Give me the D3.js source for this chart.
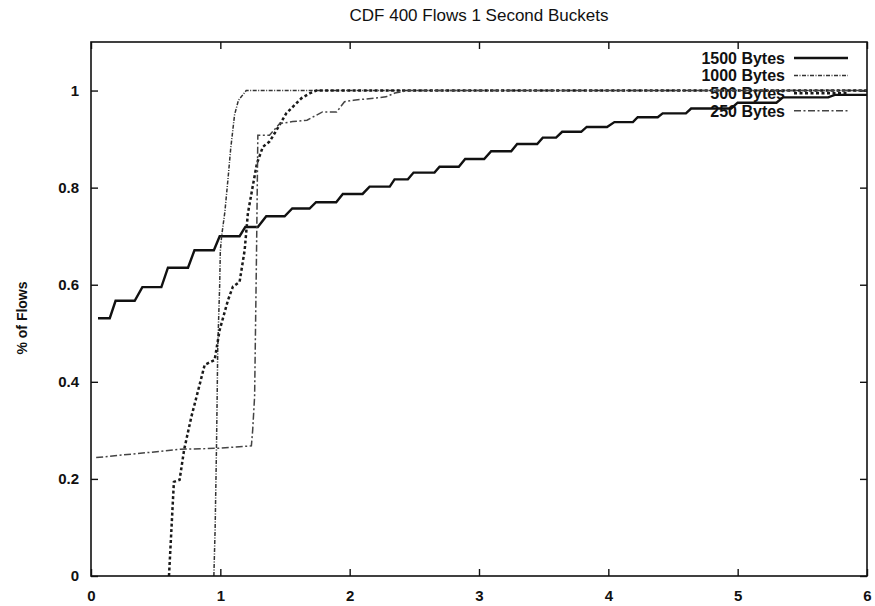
<!DOCTYPE html>
<html>
<head>
<meta charset="utf-8">
<script src="https://cdn.jsdelivr.net/npm/d3@7"></script>
<style>
  body { margin: 0; background: #fff; }
  svg { display: block; font-family: "Liberation Sans", Arial, Helvetica, sans-serif; }
  .tick text { font-size: 15px; font-weight: bold; fill: #111; }
  .tick line { stroke: #111; stroke-width: 1.4; }
</style>
</head>
<body>
<div id="chart"></div>
<script>
'use strict';

// x ticks / y ticks
var xTicks = [0, 1, 2, 3, 4, 5, 6];
var yTicks = [0, 0.2, 0.4, 0.6, 0.8, 1];

var seriesNames = ['1500 Bytes', '1000 Bytes', '500 Bytes', '250 Bytes'];

// 1500 Bytes, staircase CDF (seconds, fraction)
var x1500 = [0.054, 0.145, 0.19, 0.338, 0.397, 0.544, 0.595, 0.75, 0.80, 0.95, 0.995, 1.149,
	1.193, 1.29, 1.355, 1.497, 1.556, 1.69, 1.74, 1.896, 1.947, 2.1, 2.154, 2.31, 2.347, 2.45,
	2.494, 2.656, 2.695, 2.844, 2.893, 3.04, 3.094, 3.249, 3.295, 3.45, 3.493, 3.596, 3.643, 3.79,
	3.833, 3.99, 4.047, 4.19, 4.227, 4.382, 4.42, 4.6, 4.64, 4.95, 5.0, 5.3, 5.35, 5.7, 5.75, 6.0];
var y1500 = [0.531, 0.531, 0.567, 0.567, 0.595, 0.595, 0.635, 0.635, 0.671, 0.671, 0.700, 0.700,
	0.719, 0.719, 0.741, 0.741, 0.757, 0.757, 0.770, 0.770, 0.787, 0.787, 0.802, 0.802, 0.817, 0.817,
	0.831, 0.831, 0.843, 0.843, 0.859, 0.859, 0.875, 0.875, 0.890, 0.890, 0.903, 0.903, 0.915, 0.915,
	0.925, 0.925, 0.935, 0.935, 0.945, 0.945, 0.953, 0.953, 0.963, 0.963, 0.975, 0.975, 0.986, 0.986, 0.991, 0.991];

// 1000 Bytes
var x1000 = [0.95, 0.96, 0.97, 0.975, 0.98, 0.995, 1.0, 1.01, 1.035, 1.06, 1.08, 1.11, 1.14, 1.2, 6.0];
var y1000 = [0.0, 0.10, 0.26, 0.36, 0.47, 0.60, 0.67, 0.70, 0.75, 0.82, 0.88, 0.95, 0.98, 1.0, 1.0];

// 500 Bytes
var x500 = [0.603, 0.641, 0.685, 0.72, 0.776, 0.81, 0.879, 0.956, 0.995, 1.059, 1.097, 1.149, 1.188,
	1.213, 1.252, 1.283, 1.329, 1.381, 1.42, 1.458, 1.51, 1.574, 1.626, 1.69, 1.742, 6.0];
var y500 = [0.0, 0.194, 0.198, 0.26, 0.328, 0.363, 0.435, 0.445, 0.507, 0.568, 0.596, 0.606, 0.671,
	0.747, 0.805, 0.85, 0.884, 0.895, 0.912, 0.929, 0.953, 0.970, 0.984, 0.994, 1.0, 1.0];

// 250 Bytes
var x250 = [0.04, 0.43, 0.69, 0.97, 1.24, 1.25, 1.265, 1.28, 1.29, 1.38, 1.46, 1.56, 1.67, 1.79,
	1.90, 1.96, 2.03, 2.28, 2.35, 2.45, 6.0];
var y250 = [0.244, 0.254, 0.261, 0.263, 0.268, 0.30, 0.37, 0.67, 0.908, 0.908, 0.932, 0.936, 0.939,
	0.956, 0.956, 0.977, 0.98, 0.987, 0.995, 1.0, 1.0];

var W = 875, H = 606;
var margin = {top: 42, right: 8, bottom: 30, left: 91};

var svg = d3.select('#chart').append('svg')
	.attr('width', W)
	.attr('height', H);

var xscale = d3.scaleLinear().domain([0, 6]).range([margin.left, W - margin.right]);
var yscale = d3.scaleLinear().domain([0, 1.1]).range([H - margin.bottom, margin.top]);

var zip = function(xs, ys) {
	return xs.map(function(d, i) { return {x: d, y: ys[i]}; });
};

var styles = [
	{color: '#111', width: 2.4, dash: null},
	{color: '#333', width: 1.5, dash: '4,1.5,1,1.5'},
	{color: '#1a1a1a', width: 2.5, dash: '3,2.5'},
	{color: '#444', width: 1.5, dash: '7,2.5,2,2.5'}
];

var data = [
	zip(x1500, y1500),
	zip(x1000, y1000),
	zip(x500, y500),
	zip(x250, y250)
];

// title
svg.append('text')
	.attr('x', (xscale(0) + xscale(6)) / 2)
	.attr('y', 21)
	.attr('text-anchor', 'middle')
	.style('font-size', '17px')
	.style('fill', '#111')
	.text('CDF 400 Flows 1 Second Buckets');

// y label
svg.append('text')
	.attr('transform', 'translate(27,318) rotate(-90)')
	.attr('text-anchor', 'middle')
	.style('font-size', '14px')
	.style('font-weight', 'bold')
	.style('fill', '#111')
	.text('% of Flows');

// axes, ticks pointing inward
svg.append('g')
	.attr('transform', 'translate(0,' + yscale(0) + ')')
	.call(d3.axisBottom(xscale).tickValues(xTicks).tickFormat(d3.format('d'))
		.tickSizeInner(-7).tickSizeOuter(0).tickPadding(14))
	.call(function(g) { g.select('.domain').remove(); });

svg.append('g')
	.attr('transform', 'translate(0,' + yscale(1.1) + ')')
	.call(d3.axisTop(xscale).tickValues(xTicks).tickFormat('')
		.tickSizeInner(-7).tickSizeOuter(0))
	.call(function(g) { g.select('.domain').remove(); });

svg.append('g')
	.attr('transform', 'translate(' + xscale(0) + ',0)')
	.call(d3.axisLeft(yscale).tickValues(yTicks).tickFormat(function(d) { return d3.format('~g')(d); })
		.tickSizeInner(-7).tickSizeOuter(0).tickPadding(12))
	.call(function(g) { g.select('.domain').remove(); });

svg.append('g')
	.attr('transform', 'translate(' + xscale(6) + ',0)')
	.call(d3.axisRight(yscale).tickValues(yTicks).tickFormat('')
		.tickSizeInner(-7).tickSizeOuter(0))
	.call(function(g) { g.select('.domain').remove(); });

svg.selectAll('.tick text').attr('font-family', null).attr('font-size', null);

// legend
var legend = svg.append('g').attr('class', 'legend');
legend.selectAll('g')
	.data(seriesNames)
.enter().append('g')
	.each(function(d, i) {
		var g = d3.select(this);
		var ypos = 58 + i * 17.6;
		g.append('text')
			.attr('x', 785)
			.attr('y', ypos)
			.attr('dy', '0.36em')
			.attr('text-anchor', 'end')
			.style('font-size', '16px')
			.style('font-weight', 'bold')
			.style('fill', '#111')
			.text(d);
		g.append('line')
			.attr('x1', 794)
			.attr('x2', 848)
			.attr('y1', ypos)
			.attr('y2', ypos)
			.style('stroke', styles[i].color)
			.style('stroke-width', styles[i].width)
			.style('stroke-dasharray', styles[i].dash);
	});

// lines
var line = d3.line()
	.x(function(d) { return xscale(d.x); })
	.y(function(d) { return yscale(d.y); });

svg.selectAll('.series')
	.data(data)
.enter().append('path')
	.attr('class', 'series')
	.attr('d', line)
	.style('fill', 'none')
	.style('stroke', function(d, i) { return styles[i].color; })
	.style('stroke-width', function(d, i) { return styles[i].width; })
	.style('stroke-dasharray', function(d, i) { return styles[i].dash; });

// frame
svg.append('rect')
	.attr('x', xscale(0))
	.attr('y', yscale(1.1))
	.attr('width', xscale(6) - xscale(0))
	.attr('height', yscale(0) - yscale(1.1))
	.style('fill', 'none')
	.style('stroke', '#111')
	.style('stroke-width', 1.6);
</script>
</body>
</html>
